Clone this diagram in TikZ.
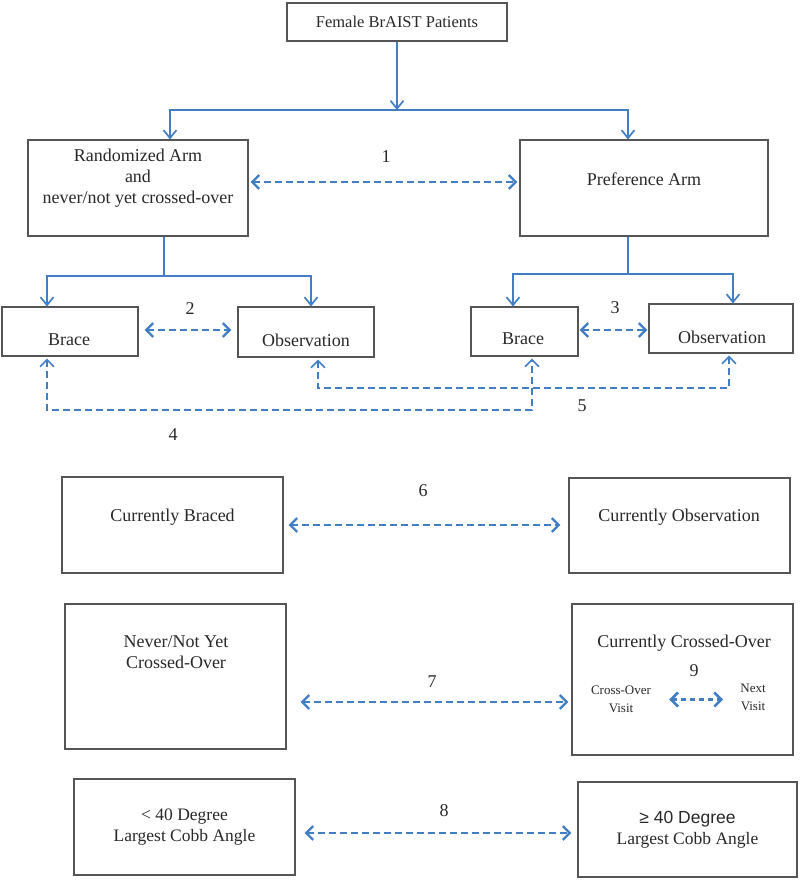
\documentclass[tikz,border=0pt]{standalone}
\usepackage{fontspec}
\setmainfont{Liberation Serif}
\newfontfamily\arialfont{Liberation Sans}
\usetikzlibrary{arrows.meta}
\definecolor{flowblue}{RGB}{66,126,196}
\definecolor{boxgray}{RGB}{85,85,85}
\definecolor{txtgray}{RGB}{40,40,40}

\begin{document}
\begin{tikzpicture}[x=1pt,y=-1pt,
  box/.style={draw=boxgray, line width=1.1pt, inner sep=0pt, align=center,
    text=txtgray, font=\fontsize{18}{21}\selectfont},
  txt/.style={text=txtgray, align=center, inner sep=0pt, font=\fontsize{18}{21}\selectfont},
  small/.style={txt, font=\fontsize{13}{18}\selectfont},
  link/.style={flowblue, line width=1.7pt},
  arr/.style={link, -{Straight Barb[length=8pt,width=13pt]}},
  dbl/.style={flowblue, line width=2.3pt, dash pattern=on 7pt off 4pt,
    {Straight Barb[length=7pt,width=14pt]}-{Straight Barb[length=7pt,width=14pt]}},
  dblthin/.style={dbl, line width=1.6pt}]
  \useasboundingbox (0,0) rectangle (800,880);

  % Top
  \node[box, minimum width=220pt, minimum height=38pt, font=\fontsize{16.5}{19}\selectfont]
    (top) at (397,22) {Female BrAIST Patients};

  % Arms
  \node[box, minimum width=220pt, minimum height=96pt] (rand) at (138,188) {};
  \node[txt] (rand-t) at (138,178) {Randomized Arm\\and\\never/not yet crossed-over};
  \node[box, minimum width=248pt, minimum height=96pt] (pref) at (644,188) {};
  \node[txt] (pref-t) at (644,179) {Preference Arm};

  \coordinate (fork) at (397,110);
  \draw[arr] (top) -- (fork);
  \draw[arr] (fork) -| ([xshift=32pt]rand.north);
  \draw[arr] (fork) -| ([xshift=-16pt]pref.north);
  \draw[dbl, shorten <=2pt, shorten >=2pt] ([yshift=6pt]rand.east) -- ([yshift=6pt]rand.east -| pref.west);
  \node[txt] (n1) at (386,157) {1};

  % Brace / Observation
  \node[box, minimum width=136pt, minimum height=49pt] (lbrace) at (70,331.5) {};
  \node[txt] (lbrace-t) at (69,340) {Brace};
  \node[box, minimum width=136pt, minimum height=50pt] (lobs) at (306,332) {};
  \node[txt] (lobs-t) at (306,340) {Observation};
  \node[box, minimum width=107pt, minimum height=49pt] (rbrace) at (524.5,331.5) {};
  \node[txt] (rbrace-t) at (523,339) {Brace};
  \node[box, minimum width=144pt, minimum height=49pt] (robs) at (721,328.5) {};
  \node[txt] (robs-t) at (722,337) {Observation};

  \coordinate (rfork) at (164,276);
  \draw[link] ([xshift=26pt]rand.south) -- (rfork);
  \draw[arr] (rfork) -| ([xshift=-23pt]lbrace.north);
  \draw[arr] (rfork) -| ([xshift=5pt]lobs.north);
  \coordinate (pfork) at (628,274);
  \draw[link] ([xshift=-16pt]pref.south) -- (pfork);
  \draw[arr] (pfork) -| ([xshift=-11.5pt]rbrace.north);
  \draw[arr] (pfork) -| ([xshift=12pt]robs.north);

  \draw[dbl, shorten <=6pt, shorten >=6pt] ([yshift=1.5pt]lbrace.east) -- ([yshift=1.5pt]lbrace.east -| lobs.west);
  \node[txt] (n2) at (190,309) {2};
  \draw[dbl, shorten <=1pt, shorten >=1pt] ([yshift=1.5pt]rbrace.east) -- ([yshift=1.5pt]rbrace.east -| robs.west);
  \node[txt] (n3) at (615,308) {3};

  \coordinate (low4) at (300,410);
  \draw[dblthin, shorten <=2pt, shorten >=2pt] ([xshift=-23pt]lbrace.south) |- (low4) -| ([xshift=7.5pt]rbrace.south);
  \node[txt] (n4) at (173,435) {4};
  \coordinate (low5) at (500,388);
  \draw[dblthin, shorten <=2pt, shorten >=2pt] ([xshift=12pt]lobs.south) |- (low5) -| ([xshift=8pt]robs.south);
  \node[txt] (n5) at (582,406) {5};

  % Currently braced / observation
  \node[box, minimum width=221pt, minimum height=96pt] (curbr) at (172.5,525) {};
  \node[txt] (curbr-t) at (172.5,517) {Currently Braced};
  \node[box, minimum width=221pt, minimum height=95pt] (curobs) at (679.5,525.5) {};
  \node[txt] (curobs-t) at (679,517) {Currently Observation};
  \draw[dbl, shorten <=5pt, shorten >=8pt] (curbr.east) -- (curbr.east -| curobs.west);
  \node[txt] (n6) at (423,491) {6};

  % Crossed-over
  \node[box, minimum width=221pt, minimum height=145pt] (never) at (175.5,676.5) {};
  \node[txt] (never-t) at (176,652) {Never/Not Yet\\Crossed-Over};
  \node[box, minimum width=221pt, minimum height=151pt] (curco) at (682.5,679.5) {};
  \node[txt] (curco-t) at (684,643) {Currently Crossed-Over};
  \node[small] (cov) at (621,699) {Cross-Over\\Visit};
  \node[small] (nv) at (753,697) {Next\\Visit};
  \draw[dbl, line width=2.6pt, dash pattern=on 5pt off 4pt, shorten <=18pt, shorten >=17pt]
    ([yshift=-0.5pt]cov.east) -- ([yshift=-0.5pt]cov.east -| nv.west);
  \node[txt] (n9) at (694,671) {9};
  \draw[dbl, shorten <=14pt, shorten >=3pt] ([yshift=-25.5pt]never.east) -- ([yshift=-25.5pt]never.east -| curco.west);
  \node[txt] (n7) at (432,682) {7};

  % Cobb angle
  \node[box, minimum width=221pt, minimum height=96pt, font=\fontsize{17.5}{21}\selectfont]
    (lt40) at (184.5,827) {< 40 Degree\\Largest Cobb Angle};
  \node[box, minimum width=219pt, minimum height=95pt, font=\fontsize{17.5}{21}\selectfont]
    (ge40) at (687.5,829.5) {{\arialfont ≥ 40 Degree}\\Largest Cobb Angle};
  \draw[dbl, shorten <=9pt, shorten >=6pt] ([yshift=-6pt]lt40.east) -- ([yshift=-6pt]lt40.east -| ge40.west);
  \node[txt] (n8) at (444,811) {8};
\end{tikzpicture}
\end{document}
